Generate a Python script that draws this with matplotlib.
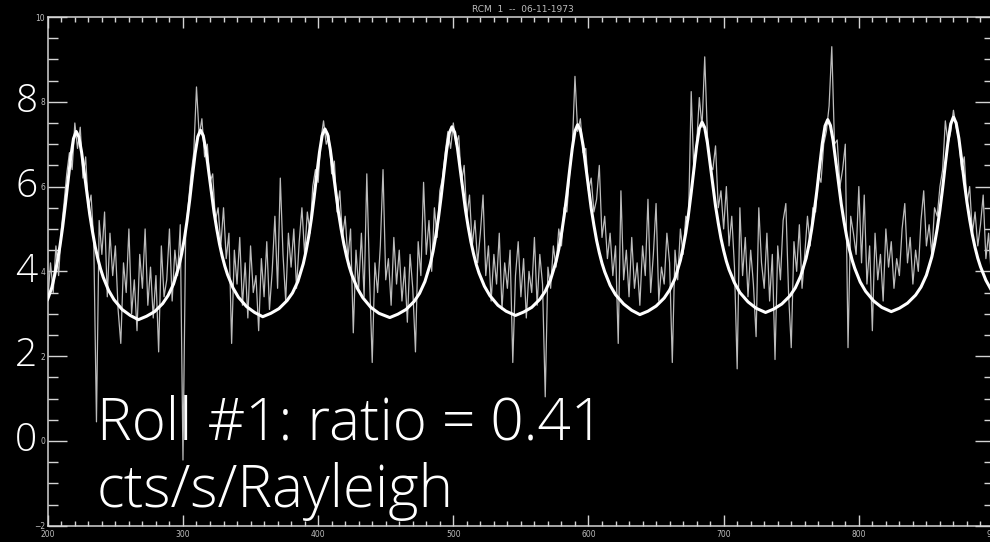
import numpy as np
import matplotlib.pyplot as plt
from matplotlib.ticker import MultipleLocator

# measured count rate, one sample every 2 units from 200 to 900
data_y = [
    3.3, 4.2, 3.5, 4.6, 3.9, 5.0, 5.6, 6.3, 6.8, 6.4,
    7.5, 6.9, 7.4, 6.2, 6.7, 5.5, 5.8, 4.7, 0.45, 5.2,
    4.4, 5.4, 3.4, 4.9, 3.9, 4.6, 3.1, 2.3, 4.2, 3.5,
    5.0, 3.0, 3.8, 2.6, 4.4, 3.6, 5.0, 3.2, 4.1, 2.9,
    3.9, 2.1, 4.6, 3.4, 3.8, 5.0, 3.3, 4.5, 3.9, 5.1,
    -0.45, 4.9, 5.6, 6.3, 6.8, 8.35, 7.2, 7.6, 6.7, 7.0,
    6.1, 6.3, 5.2, 5.5, 4.6, 5.5, 4.3, 4.9, 2.3, 4.5,
    3.7, 4.8, 3.2, 4.2, 2.9, 4.6, 3.5, 3.9, 2.6, 4.3,
    3.4, 4.7, 3.1, 4.0, 5.3, 3.6, 6.2, 4.4, 3.3, 4.9,
    4.1, 5.0, 3.6, 4.7, 5.5, 4.4, 5.4, 4.9, 6.0, 6.4,
    6.1, 7.1, 7.55, 7.0, 7.2, 6.3, 6.6, 5.4, 5.9, 4.8,
    5.3, 4.3, 5.0, 2.55, 4.5, 3.6, 4.9, 3.4, 6.3, 3.9,
    1.85, 4.2, 3.5, 4.6, 6.4, 3.8, 4.3, 3.2, 4.8, 3.7,
    4.5, 3.3, 4.1, 2.8, 4.4, 3.6, 2.1, 4.7, 3.9, 6.1,
    4.4, 5.2, 4.0, 5.5, 4.8, 5.9, 6.2, 6.8, 7.3, 6.9,
    7.5, 7.0, 7.2, 6.1, 6.5, 5.3, 5.8, 4.6, 5.2, 4.2,
    4.9, 5.8, 3.9, 4.6, 3.3, 4.4, 3.7, 4.9, 3.1, 4.2,
    3.6, 4.5, 1.85, 3.9, 4.7, 3.4, 4.3, 2.9, 4.0, 3.5,
    4.8, 3.2, 4.4, 3.7, 1.04, 4.1, 3.6, 4.6, 4.1, 5.0,
    4.6, 5.5, 5.4, 6.3, 6.9, 8.6, 7.3, 7.6, 6.8, 6.9,
    5.9, 6.2, 5.4, 5.7, 6.5, 4.8, 5.3, 4.3, 4.9, 3.9,
    4.6, 2.3, 5.9, 3.8, 4.5, 3.4, 4.8, 3.6, 4.2, 3.2,
    4.6, 3.9, 5.7, 3.5, 4.4, 5.6, 3.3, 4.1, 3.7, 4.9,
    4.2, 1.85, 4.5, 3.8, 5.0, 4.4, 5.3, 5.2, 8.24, 6.3,
    7.0, 8.1, 7.4, 9.06, 7.2, 6.5, 6.4, 6.96, 5.5, 5.9,
    5.0, 6.0, 4.6, 5.3, 4.1, 1.7, 5.5, 3.9, 4.8, 3.4,
    4.5, 3.7, 2.46, 5.5, 4.2, 3.6, 4.9, 3.3, 4.4, 1.92,
    4.6, 3.8, 5.2, 5.6, 3.5, 2.2, 4.7, 4.0, 5.1, 3.6,
    4.4, 5.3, 4.6, 5.5, 5.4, 6.3, 6.1, 7.0, 7.3, 7.9,
    9.3, 7.0, 7.1, 6.0, 6.4, 7.0, 2.2, 5.3, 4.9, 4.4,
    6.0, 4.2, 5.8, 3.7, 4.6, 2.6, 4.9, 3.8, 4.4, 3.3,
    5.0, 4.1, 4.7, 3.6, 4.3, 3.9, 5.0, 5.6, 4.2, 4.8,
    3.7, 4.5, 4.0, 5.2, 5.9, 4.6, 5.1, 4.4, 5.5, 5.3,
    6.0, 6.4, 7.55, 7.0, 7.3, 7.8, 7.4, 7.1, 6.4, 6.7,
    5.6, 6.0, 4.9, 5.4, 4.6, 5.1, 5.8, 4.3, 4.9, 3.9, 4.5,
]
data_x = np.arange(200, 901, 2)

# fitted roll model, one group of points per peak
model_x = [
    200, 203, 205, 207, 209, 211, 213, 215, 217, 219, 221, 223, 225, 227, 229, 231, 233, 235, 237, 239, 241, 245, 249, 255, 261,
    267, 273, 279, 285, 289, 293, 297, 299, 301, 303, 305, 307, 309, 311, 313, 315, 317, 319, 321, 323, 325, 327, 329, 331, 333, 337, 341, 347, 353,
    359, 365, 371, 377, 381, 385, 389, 391, 393, 395, 397, 399, 401, 403, 405, 407, 409, 411, 413, 415, 417, 419, 421, 423, 425, 429, 433, 439, 445,
    453, 459, 465, 471, 475, 479, 483, 485, 487, 489, 491, 493, 495, 497, 499, 501, 503, 505, 507, 509, 511, 513, 515, 517, 519, 523, 527, 533, 539,
    546, 552, 558, 564, 568, 572, 576, 578, 580, 582, 584, 586, 588, 590, 592, 594, 596, 598, 600, 602, 604, 606, 608, 610, 612, 616, 620, 626, 632,
    638, 644, 650, 656, 660, 664, 668, 670, 672, 674, 676, 678, 680, 682, 684, 686, 688, 690, 692, 694, 696, 698, 700, 702, 704, 708, 712, 718, 724,
    731, 737, 743, 749, 753, 757, 761, 763, 765, 767, 769, 771, 773, 775, 777, 779, 781, 783, 785, 787, 789, 791, 793, 795, 797, 801, 805, 811, 817,
    824, 830, 836, 842, 846, 850, 854, 856, 858, 860, 862, 864, 866, 868, 870, 872, 874, 876, 878, 880, 882, 884, 886, 888, 890, 894, 898, 900,
]
model_y = [
    3.35, 3.62, 3.90, 4.22, 4.60, 5.05, 5.58, 6.15, 6.70, 7.13, 7.30, 7.17, 6.81, 6.32, 5.81, 5.35, 4.95, 4.59, 4.30, 4.06, 3.86, 3.55, 3.33, 3.10, 2.96,
    2.86, 2.94, 3.05, 3.24, 3.43, 3.70, 4.12, 4.41, 4.76, 5.19, 5.69, 6.25, 6.78, 7.18, 7.33, 7.20, 6.85, 6.36, 5.86, 5.39, 5.00, 4.65, 4.36, 4.12, 3.92, 3.61, 3.39, 3.17, 3.03,
    2.93, 3.01, 3.12, 3.31, 3.49, 3.76, 4.18, 4.47, 4.82, 5.24, 5.74, 6.29, 6.81, 7.21, 7.36, 7.23, 6.87, 6.38, 5.87, 5.40, 5.00, 4.65, 4.36, 4.11, 3.91, 3.60, 3.38, 3.15, 3.01,
    2.91, 2.99, 3.10, 3.29, 3.48, 3.76, 4.18, 4.47, 4.83, 5.26, 5.76, 6.32, 6.85, 7.26, 7.41, 7.28, 6.92, 6.43, 5.92, 5.45, 5.05, 4.70, 4.41, 4.16, 3.96, 3.65, 3.43, 3.20, 3.06,
    2.96, 3.04, 3.15, 3.34, 3.53, 3.81, 4.23, 4.52, 4.88, 5.31, 5.81, 6.37, 6.90, 7.31, 7.46, 7.33, 6.97, 6.47, 5.96, 5.49, 5.09, 4.73, 4.44, 4.19, 3.99, 3.67, 3.45, 3.23, 3.08,
    2.98, 3.06, 3.18, 3.37, 3.56, 3.83, 4.26, 4.56, 4.91, 5.35, 5.86, 6.42, 6.96, 7.37, 7.52, 7.39, 7.03, 6.53, 6.02, 5.54, 5.14, 4.78, 4.49, 4.24, 4.04, 3.73, 3.50, 3.28, 3.13,
    3.03, 3.11, 3.23, 3.42, 3.61, 3.89, 4.31, 4.61, 4.97, 5.41, 5.91, 6.48, 7.02, 7.43, 7.58, 7.44, 7.08, 6.58, 6.06, 5.59, 5.18, 4.82, 4.52, 4.27, 4.07, 3.75, 3.53, 3.30, 3.15,
    3.05, 3.13, 3.25, 3.44, 3.63, 3.91, 4.34, 4.64, 5.01, 5.45, 5.96, 6.53, 7.07, 7.48, 7.64, 7.50, 7.14, 6.64, 6.11, 5.63, 5.22, 4.86, 4.56, 4.31, 4.11, 3.79, 3.56, 3.49,
]

title = 'RCM  1  --  06-11-1973'
big_ticks = [8, 6, 4, 2, 0]
note_1 = 'Roll #1: ratio = 0.41'
note_2 = 'cts/s/Rayleigh'

W, H = 990, 542
fig = plt.figure(figsize=(W / 100, H / 100), dpi=100, facecolor='black')
ax = fig.add_axes([47.8 / W, 1 - 525.7 / H, 946.2 / W, 508.7 / H])
ax.set_facecolor('black')

axis_col = '#d4d4d4'
ax.plot(data_x, data_y, color='#bcbcbc', lw=0.9, zorder=2)
ax.plot(model_x, model_y, color='white', lw=2.2, zorder=3,
        solid_joinstyle='round')

ax.set_xlim(200, 900)
ax.set_ylim(-2, 10)
ax.xaxis.set_major_locator(MultipleLocator(100))
ax.xaxis.set_minor_locator(MultipleLocator(10))
ax.yaxis.set_major_locator(MultipleLocator(2))
ax.yaxis.set_minor_locator(MultipleLocator(0.5))

for s in ax.spines.values():
    s.set_color(axis_col)
    s.set_linewidth(1.1)

ax.tick_params(axis='both', which='both', direction='in', colors=axis_col,
               width=1.0, top=True, right=True, labelsize=5.5,
               labelcolor='#bdbdbd')
ax.tick_params(axis='y', which='major', length=13.7, pad=2)
ax.tick_params(axis='y', which='minor', length=7.2)
ax.tick_params(axis='x', which='major', length=7.9, pad=3)
ax.tick_params(axis='x', which='minor', length=3.6)

fig.text(523 / W, 1 - 9 / H, title, color='#bdbdbd', fontsize=6.5,
         ha='center', va='center')

big_font = dict(family=['Open Sans', 'DejaVu Sans'], weight=300,
                color='white')
for v in big_ticks:
    ax.text(-0.011, v, str(v), transform=ax.get_yaxis_transform(),
            ha='right', va='center', fontsize=28, **big_font)

fig.text(97 / W, 1 - 440 / H, note_1, ha='left', va='baseline',
         fontsize=42, **big_font)
fig.text(97 / W, 1 - 507 / H, note_2, ha='left', va='baseline',
         fontsize=42, **big_font)

fig.savefig('out.png', dpi=100, facecolor='black')
